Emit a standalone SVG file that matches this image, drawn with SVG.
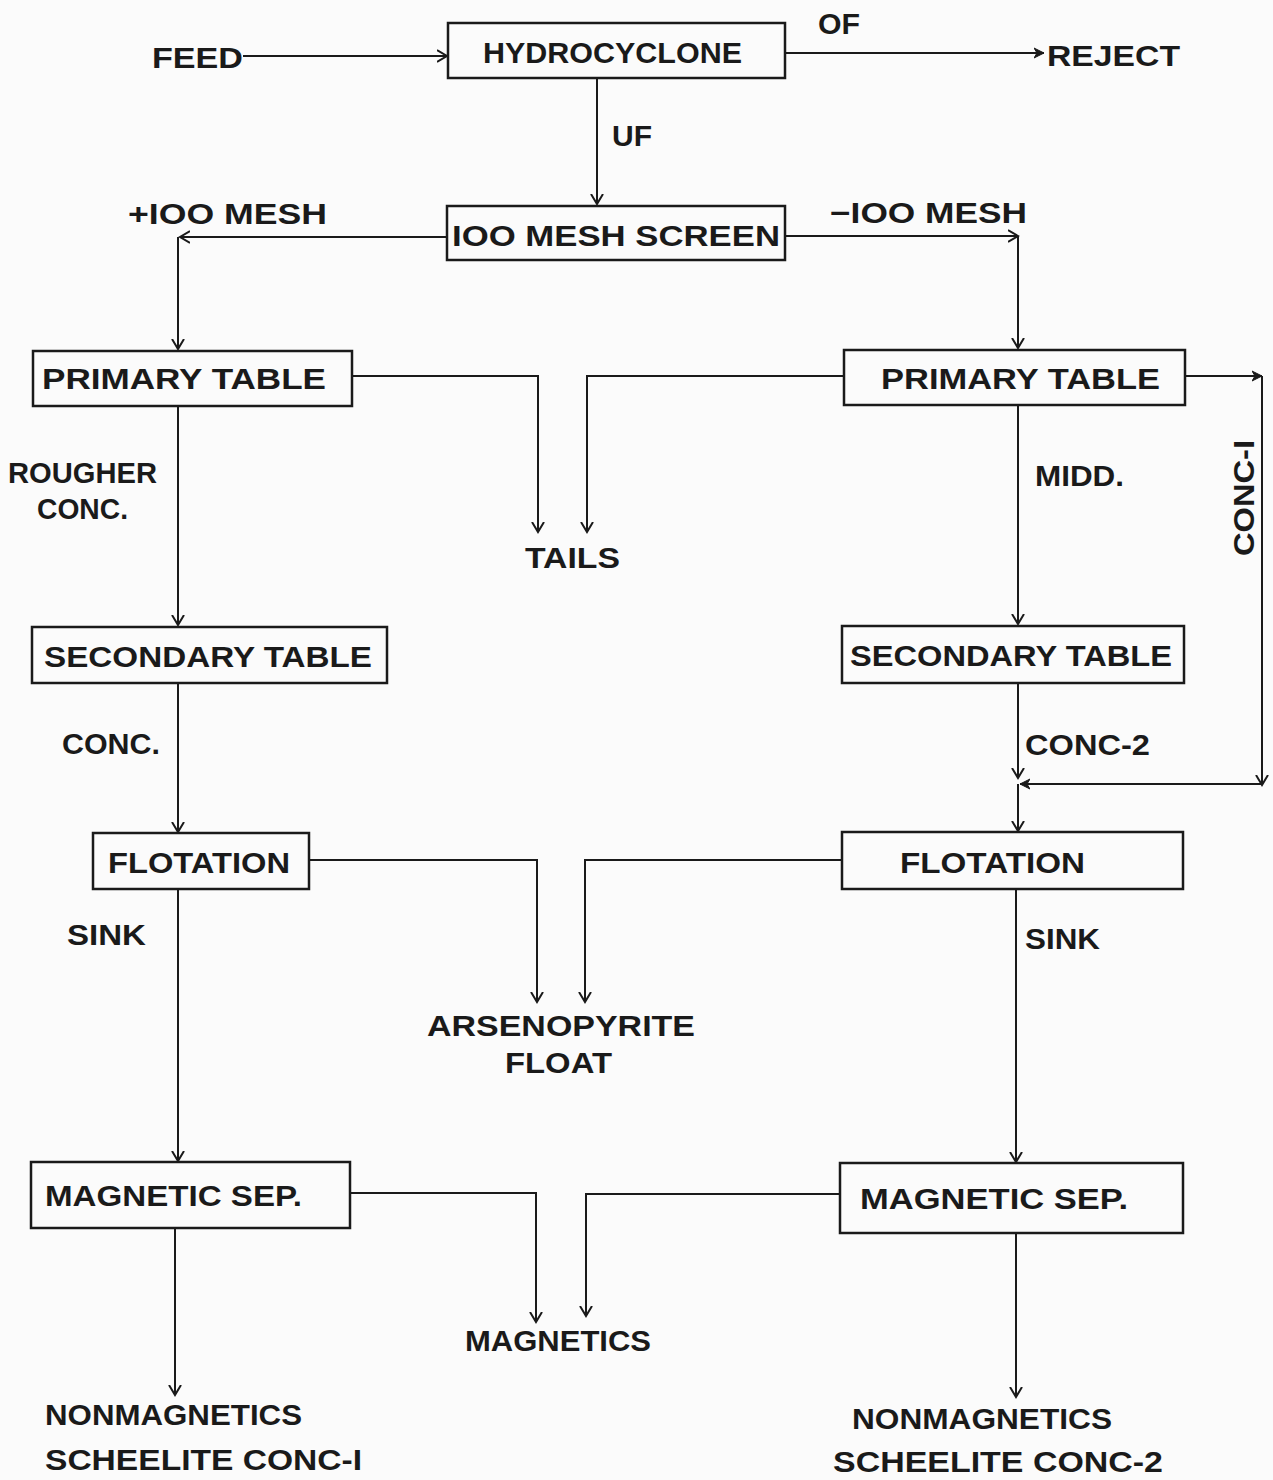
<svg xmlns="http://www.w3.org/2000/svg" width="1273" height="1480" viewBox="0 0 1273 1480">
<defs>
<marker id="ar" markerUnits="userSpaceOnUse" markerWidth="20" markerHeight="20" refX="10" refY="10" orient="auto" viewBox="0 0 20 20">
<path d="M0,4 L10,10 L0,16" fill="none" stroke="#1a1a1a" stroke-width="2"/>
</marker>
<marker id="af" markerUnits="userSpaceOnUse" markerWidth="20" markerHeight="20" refX="10" refY="10" orient="auto" viewBox="0 0 20 20">
<path d="M0,5 L10,10 L0,15 L3,10 Z" fill="#1a1a1a" stroke="#1a1a1a" stroke-width="1"/>
</marker>
</defs>
<style>
.bx{fill:none;stroke:#1a1a1a;stroke-width:2.5}
.ln{fill:none;stroke:#1a1a1a;stroke-width:2}
text{font-family:"Liberation Sans","DejaVu Sans",sans-serif;font-size:29px;fill:#1a1a1a;font-weight:bold}
.m{text-anchor:middle}
</style>
<rect width="1273" height="1480" fill="#fbfbfb"/>
<g id="connectors">
<path class="ln" d="M243,56 H447" marker-end="url(#ar)"/>
<path class="ln" d="M785,53 H1044" marker-end="url(#af)"/>
<path class="ln" d="M597,78 V204" marker-end="url(#ar)"/>
<path class="ln" d="M447,237 H180" marker-end="url(#ar)"/>
<path class="ln" d="M178,237 V349" marker-end="url(#ar)"/>
<path class="ln" d="M785,236 H1018" marker-end="url(#ar)"/>
<path class="ln" d="M1018,236 V348" marker-end="url(#ar)"/>
<path class="ln" d="M352,376 H538 V532" marker-end="url(#ar)"/>
<path class="ln" d="M844,376 H587 V532" marker-end="url(#ar)"/>
<path class="ln" d="M1185,376 H1262" marker-end="url(#af)"/>
<path class="ln" d="M1262,376 V785" marker-end="url(#ar)"/>
<path class="ln" d="M1262,784 H1020" marker-end="url(#af)"/>
<path class="ln" d="M178,406 V625" marker-end="url(#ar)"/>
<path class="ln" d="M1018,405 V624" marker-end="url(#ar)"/>
<path class="ln" d="M178,683 V832" marker-end="url(#ar)"/>
<path class="ln" d="M1018,683 V778" marker-end="url(#ar)"/>
<path class="ln" d="M1018,784 V831" marker-end="url(#ar)"/>
<path class="ln" d="M309,860 H537 V1002" marker-end="url(#ar)"/>
<path class="ln" d="M842,860 H585 V1002" marker-end="url(#ar)"/>
<path class="ln" d="M178,889 V1161" marker-end="url(#ar)"/>
<path class="ln" d="M1016,889 V1162" marker-end="url(#ar)"/>
<path class="ln" d="M350,1193 H536 V1322" marker-end="url(#ar)"/>
<path class="ln" d="M840,1194 H586 V1316" marker-end="url(#ar)"/>
<path class="ln" d="M175,1228 V1395" marker-end="url(#ar)"/>
<path class="ln" d="M1016,1233 V1397" marker-end="url(#ar)"/>
</g>
<g id="feed"><text x="152" y="68" textLength="91" lengthAdjust="spacingAndGlyphs">FEED</text></g>
<g id="hydrocyclone"><rect class="bx" x="448" y="23" width="337" height="55"/><text x="483" y="63" textLength="259" lengthAdjust="spacingAndGlyphs">HYDROCYCLONE</text></g>
<g id="of"><text x="818" y="34" textLength="42" lengthAdjust="spacingAndGlyphs">OF</text></g>
<g id="reject"><text x="1047" y="66" textLength="133" lengthAdjust="spacingAndGlyphs">REJECT</text></g>
<g id="uf"><text x="612" y="146" textLength="40" lengthAdjust="spacingAndGlyphs">UF</text></g>
<g id="screen"><rect class="bx" x="447" y="206" width="338" height="54"/><text x="452" y="246" textLength="328" lengthAdjust="spacingAndGlyphs">IOO MESH SCREEN</text></g>
<g id="plus100"><text x="128" y="224" textLength="199" lengthAdjust="spacingAndGlyphs">+IOO MESH</text></g>
<g id="minus100"><text x="830" y="223" textLength="197" lengthAdjust="spacingAndGlyphs">−IOO MESH</text></g>
<g id="primary-left"><rect class="bx" x="33" y="351" width="319" height="55"/><text x="42" y="389" textLength="284" lengthAdjust="spacingAndGlyphs">PRIMARY TABLE</text></g>
<g id="primary-right"><rect class="bx" x="844" y="350" width="341" height="55"/><text x="881" y="389" textLength="279" lengthAdjust="spacingAndGlyphs">PRIMARY TABLE</text></g>
<g id="rougher"><text x="8" y="483" textLength="149" lengthAdjust="spacingAndGlyphs" font-weight="normal">ROUGHER</text><text x="37" y="519" textLength="91" lengthAdjust="spacingAndGlyphs" font-weight="normal">CONC.</text></g>
<g id="tails"><text x="525" y="568" textLength="95" lengthAdjust="spacingAndGlyphs" font-weight="normal">TAILS</text></g>
<g id="midd"><text x="1035" y="486" textLength="89" lengthAdjust="spacingAndGlyphs" font-weight="normal">MIDD.</text></g>
<g id="conc1"><text transform="translate(1254,556) rotate(-90)" x="0" y="0" textLength="116" lengthAdjust="spacingAndGlyphs">CONC-I</text></g>
<g id="secondary-left"><rect class="bx" x="32" y="627" width="355" height="56"/><text x="44" y="667" textLength="328" lengthAdjust="spacingAndGlyphs">SECONDARY TABLE</text></g>
<g id="secondary-right"><rect class="bx" x="842" y="626" width="342" height="57"/><text x="850" y="666" textLength="322" lengthAdjust="spacingAndGlyphs">SECONDARY TABLE</text></g>
<g id="conc-left"><text x="62" y="754" textLength="98" lengthAdjust="spacingAndGlyphs" font-weight="normal">CONC.</text></g>
<g id="conc2"><text x="1025" y="755" textLength="125" lengthAdjust="spacingAndGlyphs">CONC-2</text></g>
<g id="flotation-left"><rect class="bx" x="93" y="833" width="216" height="56"/><text x="108" y="873" textLength="182" lengthAdjust="spacingAndGlyphs">FLOTATION</text></g>
<g id="flotation-right"><rect class="bx" x="842" y="832" width="341" height="57"/><text x="900" y="873" textLength="185" lengthAdjust="spacingAndGlyphs">FLOTATION</text></g>
<g id="sink-left"><text x="67" y="945" textLength="79" lengthAdjust="spacingAndGlyphs">SINK</text></g>
<g id="sink-right"><text x="1025" y="949" textLength="75" lengthAdjust="spacingAndGlyphs">SINK</text></g>
<g id="arsenopyrite"><text x="427" y="1036" textLength="268" lengthAdjust="spacingAndGlyphs">ARSENOPYRITE</text><text x="505" y="1073" textLength="107" lengthAdjust="spacingAndGlyphs">FLOAT</text></g>
<g id="magsep-left"><rect class="bx" x="31" y="1162" width="319" height="66"/><text x="45" y="1206" textLength="257" lengthAdjust="spacingAndGlyphs">MAGNETIC SEP.</text></g>
<g id="magsep-right"><rect class="bx" x="840" y="1163" width="343" height="70"/><text x="860" y="1209" textLength="268" lengthAdjust="spacingAndGlyphs">MAGNETIC SEP.</text></g>
<g id="magnetics"><text x="465" y="1351" textLength="186" lengthAdjust="spacingAndGlyphs">MAGNETICS</text></g>
<g id="nonmag-left"><text x="45" y="1425" textLength="257" lengthAdjust="spacingAndGlyphs">NONMAGNETICS</text><text x="45" y="1470" textLength="317" lengthAdjust="spacingAndGlyphs">SCHEELITE CONC-I</text></g>
<g id="nonmag-right"><text x="852" y="1429" textLength="260" lengthAdjust="spacingAndGlyphs">NONMAGNETICS</text><text x="833" y="1472" textLength="330" lengthAdjust="spacingAndGlyphs">SCHEELITE CONC-2</text></g>
</svg>
